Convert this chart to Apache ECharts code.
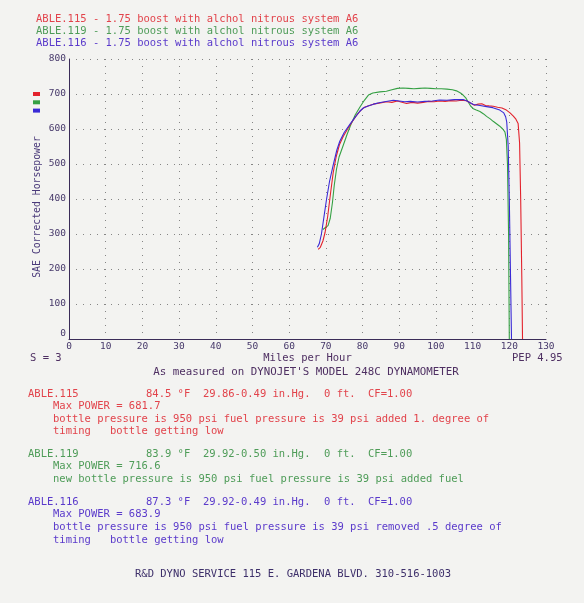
<!DOCTYPE html>
<html><head><meta charset="utf-8">
<script src="https://cdn.jsdelivr.net/npm/echarts@6/dist/echarts.min.js"></script>
<style>html,body{margin:0;padding:0;background:#f3f3f1}#c{width:584px;height:603px}</style>
</head><body><div id="c"></div>
<script>
// ---- data ----
const runNames = [
  'ABLE.115 - 1.75 boost with alchol nitrous system A6',
  'ABLE.119 - 1.75 boost with alchol nitrous system A6',
  'ABLE.116 - 1.75 boost with alchol nitrous system A6'
];
const xTicksMin = 0, xTicksMax = 130, xTickStep = 10;
const yTicksMin = 0, yTicksMax = 800, yTickStep = 100;

// [mph, horsepower]
const run115 = [[67.9,256],[68.5,262],[69.2,280],[69.8,305],[70.5,350],[71.2,410],[72.0,475],[72.8,520],[73.7,555],[74.7,578],[75.8,598],[77.0,618],[78.3,638],[79.5,653],[80.5,662],[81.5,666],[82.9,671],[84.5,674],[86.6,678],[88.0,676],[89.5,680],[90.5,677],[92.0,673],[93.5,676],[95.0,674],[96.5,676],[98.0,679],[99.5,678],[101.0,680],[102.5,679],[104.0,681],[105.5,680],[107.0,682],[108.3,681],[109.3,675],[110.5,668],[111.5,671],[112.5,672],[113.5,667],[114.5,666],[115.6,665],[116.8,662],[118.0,660],[119.2,654],[120.2,646],[121.1,637],[121.8,628],[122.4,616],[122.8,560],[123.1,400],[123.4,180],[123.6,0]];
const run119 = [[69.2,313],[69.8,318],[70.6,324],[71.2,345],[71.8,390],[72.3,440],[72.9,485],[73.6,520],[74.7,552],[75.8,585],[76.8,612],[78.0,640],[79.3,663],[80.5,682],[81.6,697],[82.8,703],[84.7,706],[86.5,708],[88.0,712],[89.5,716],[91.0,717],[92.5,716],[94.0,715],[95.5,716],[97.0,717],[98.5,716],[100.0,715],[101.5,715],[103.0,714],[104.5,712],[105.6,709],[106.7,703],[107.4,697],[108.2,688],[108.8,677],[109.5,665],[110.2,658],[111.0,654],[112.0,650],[113.0,643],[113.8,636],[114.8,629],[115.6,622],[116.5,615],[117.4,608],[118.2,600],[118.8,592],[119.2,570],[119.5,500],[119.8,300],[120.0,0]];
const run116 = [[67.7,262],[68.2,272],[68.8,300],[69.5,350],[70.2,400],[71.0,450],[72.0,497],[73.0,540],[73.8,565],[75.0,590],[76.6,614],[78.0,634],[79.2,650],[80.2,660],[81.5,666],[83.0,671],[84.5,675],[86.0,678],[88.4,682],[90.0,680],[91.5,678],[93.0,679],[95.0,677],[97.0,679],[99.0,680],[101.0,683],[103.0,682],[105.0,684],[107.4,684],[108.5,680],[110.2,670],[112.0,667],[113.8,664],[115.5,661],[117.4,654],[118.5,646],[119.0,635],[119.3,620],[119.7,550],[120.0,400],[120.3,200],[120.6,0]];

const info115Header = ['ABLE.115','84.5 °F','29.86-0.49 in.Hg.','0 ft.','CF=1.00'];
const info115Lines = ['Max POWER = 681.7','bottle pressure is 950 psi fuel pressure is 39 psi added 1. degree of','timing   bottle getting low'];
const info119Header = ['ABLE.119','83.9 °F','29.92-0.50 in.Hg.','0 ft.','CF=1.00'];
const info119Lines = ['Max POWER = 716.6','new bottle pressure is 950 psi fuel pressure is 39 psi added fuel'];
const info116Header = ['ABLE.116','87.3 °F','29.92-0.49 in.Hg.','0 ft.','CF=1.00'];
const info116Lines = ['Max POWER = 683.9','bottle pressure is 950 psi fuel pressure is 39 psi removed .5 degree of','timing   bottle getting low'];
const yAxisTitle = 'SAE Corrected Horsepower';
const xAxisTitle = 'Miles per Hour';
const smoothText = 'S = 3';
const pepText = 'PEP 4.95';
const measuredText = "As measured on DYNOJET'S MODEL 248C DYNAMOMETER";
const footerText = 'R&D DYNO SERVICE 115 E. GARDENA BLVD. 310-516-1003';

// ---- styles ----
const lineColors = ['#e3222c', '#35a044', '#3a2ad6'];
const textColors = ['#e2434b', '#4e9c58', '#5a3acb'];
const mono = '"DejaVu Sans Mono", "Liberation Mono", monospace';
const darkText = '#4e2f62';
const axisColor = '#3a2c58';

function txt(x, y, s, color, size, extra) {
  return Object.assign({type:'text', x:x, y:y, silent:true,
    style:{text:s, fill:color, font: size + 'px ' + mono, verticalAlign:'middle', align:'left'}}, extra||{});
}
const graphics = [];
const headerX = [28, 146, 203, 324, 368];
function block(header, lines, color, y0, dy) {
  header.forEach((h,i)=>graphics.push(txt(headerX[i], y0, h, color, 10.5)));
  lines.forEach((l,i)=>graphics.push(txt(53, y0 + dy*(i+1), l, color, 10.5)));
}
block(info115Header, info115Lines, textColors[0], 394, 12.4);
block(info119Header, info119Lines, textColors[1], 454, 12.5);
block(info116Header, info116Lines, textColors[2], 502, 12.6);
graphics.push(txt(30, 358, smoothText, darkText, 10.5));
graphics.push(txt(512, 358, pepText, darkText, 10.5));
const mt = txt(306, 372, measuredText, darkText, 10.8);
mt.style.align = 'center';
graphics.push(mt);
graphics.push(txt(135, 574, footerText, '#3d2f6a', 10.5));
const yt = txt(37, 207, yAxisTitle, '#4a3a7a', 9.8, {rotation: Math.PI/2});
yt.style.align = 'center';
graphics.push(yt);

const chart = echarts.init(document.getElementById('c'), null, {renderer:'canvas'});
chart.setOption({
  animation:false,
  backgroundColor:'#f3f3f1',
  legend:[
    {data: runNames.map((n,i)=>({name:n, icon:'none', textStyle:{color:textColors[i]}})),
     orient:'vertical', left:31, top:13.5, padding:0, itemWidth:0, itemHeight:0, itemGap:1.2, selectedMode:false,
     textStyle:{fontFamily:mono, fontSize:10.5, lineHeight:11, padding:0}},
    {data: runNames.map((n)=>({name:n, icon:'rect'})),
     orient:'vertical', left:33, top:92, padding:0, itemWidth:7, itemHeight:4, itemGap:4.3, selectedMode:false,
     formatter:()=>'', textStyle:{fontSize:4, lineHeight:4}}
  ],
  grid:{left:69, right:38, top:59, bottom:264, containLabel:false},
  xAxis:{type:'value', min:xTicksMin, max:xTicksMax, interval:xTickStep,
    name:xAxisTitle, nameLocation:'middle', nameGap:14,
    nameTextStyle:{color:darkText, fontFamily:mono, fontSize:10.5},
    axisLine:{show:true, onZero:false, lineStyle:{color:axisColor, width:1}},
    axisTick:{show:false},
    axisLabel:{color:'#46386a', fontFamily:mono, fontSize:9.5, margin:3},
    splitLine:{show:true, lineStyle:{color:'#858585', width:1, type:[1,6]}}},
  yAxis:{type:'value', min:yTicksMin, max:yTicksMax, interval:yTickStep,
    axisLine:{show:true, onZero:false, lineStyle:{color:axisColor, width:1}},
    axisTick:{show:false},
    axisLabel:{color:'#46386a', fontFamily:mono, fontSize:9.5, margin:3, verticalAlignMinLabel:'bottom'},
    splitLine:{show:true, lineStyle:{color:'#858585', width:1, type:[1,6]}}},
  series:[
    {name:runNames[0], type:'line', data:run115, showSymbol:false, lineStyle:{color:lineColors[0], width:1.1}, itemStyle:{color:lineColors[0]}, z:3},
    {name:runNames[1], type:'line', data:run119, showSymbol:false, lineStyle:{color:lineColors[1], width:1.1}, itemStyle:{color:lineColors[1]}, z:2},
    {name:runNames[2], type:'line', data:run116, showSymbol:false, lineStyle:{color:lineColors[2], width:1.1}, itemStyle:{color:lineColors[2]}, z:4}
  ],
  graphic: graphics
});
</script></body></html>
